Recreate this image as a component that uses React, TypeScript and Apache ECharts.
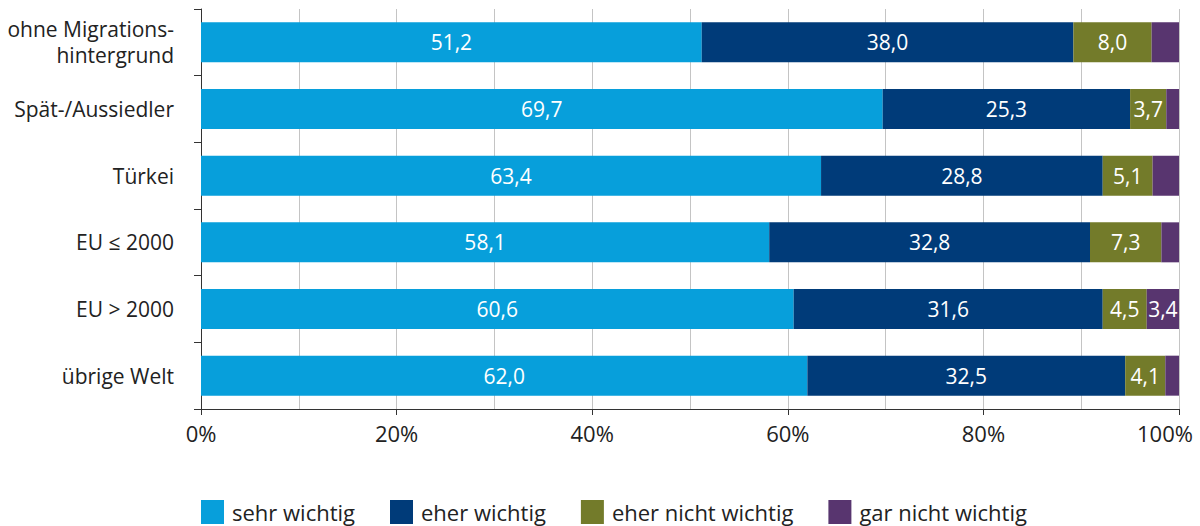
import React, { useEffect, useRef } from "react";
import * as echarts from "echarts";

const categories = ["ohne Migrations-\nhintergrund", "Spät-/Aussiedler", "Türkei", "EU ≤ 2000", "EU > 2000", "übrige Welt"];
const seriesNames = ["sehr wichtig", "eher wichtig", "eher nicht wichtig", "gar nicht wichtig"];
const sehrWichtig = [51.2, 69.7, 63.4, 58.1, 60.6, 62.0];
const eherWichtig = [38.0, 25.3, 28.8, 32.8, 31.6, 32.5];
const eherNichtWichtig = [8.0, 3.7, 5.1, 7.3, 4.5, 4.1];
const garNichtWichtig = [2.8, 1.3, 2.7, 1.8, 3.4, 1.4];
const shownGarNicht = [false, false, false, false, true, false];
const colors = ["#079fdb", "#003b79", "#737b2a", "#58356f"];

const FONT = "'Open Sans', sans-serif";
const fmt = (v: number) => v.toFixed(1).replace(".", ",");

export default function App() {
  const ref = useRef<HTMLDivElement>(null);
  useEffect(() => {
    if (!ref.current) return;
    const chart = echarts.init(ref.current, null, { renderer: "svg" });
    const allData = [sehrWichtig, eherWichtig, eherNichtWichtig, garNichtWichtig];
    const series = allData.map((arr, si) => ({
      name: seriesNames[si],
      type: "bar",
      stack: "total",
      barWidth: "60%",
      itemStyle: { color: colors[si] },
      label: {
        show: true,
        position: "inside",
        color: "#ffffff",
        fontSize: 21,
        fontFamily: FONT,
        formatter: (p: any) => fmt(p.value),
      },
      data: arr.map((v, i) =>
        si === 3 && !shownGarNicht[i] ? { value: v, label: { show: false } } : { value: v }
      ),
    }));
    chart.setOption({
      animation: false,
      textStyle: { fontFamily: FONT },
      grid: { left: 201, right: 21, top: 9, bottom: 117, containLabel: false, outerBoundsMode: "none" },
      legend: {
        left: 201,
        top: 500,
        padding: 0,
        itemWidth: 23,
        itemHeight: 24,
        itemGap: 35,
        icon: "rect",
        textStyle: { fontSize: 22, color: "#222", fontFamily: FONT, padding: [0, 0, 0, 3] },
        data: seriesNames,
      },
      xAxis: {
        type: "value",
        min: 0,
        max: 100,
        interval: 20,
        axisLine: { show: true, lineStyle: { color: "#333", width: 1 } },
        axisTick: { show: true, length: 6, lineStyle: { color: "#333" } },
        axisLabel: {
          fontSize: 22,
          color: "#222",
          margin: 13,
          fontFamily: FONT,
          formatter: (v: number) => (v === 100 ? "{m|" + v + "%}" : v + "%"),
          rich: { m: { fontSize: 22, color: "#222", fontFamily: FONT, padding: [0, 28, 0, 0] } },
        },
        splitLine: { show: true, lineStyle: { color: "#c4c4c4", width: 1 } },
        minorTick: { show: false, splitNumber: 2 },
        minorSplitLine: { show: true, lineStyle: { color: "#c4c4c4", width: 1 } },
      },
      yAxis: {
        type: "category",
        inverse: true,
        data: categories,
        axisLine: { show: true, lineStyle: { color: "#333", width: 1 } },
        axisTick: { show: true, length: 7, lineStyle: { color: "#333" } },
        axisLabel: { fontSize: 21, color: "#222", margin: 27, align: "right", lineHeight: 26, fontFamily: FONT },
        splitLine: { show: false },
      },
      series,
    });
    return () => chart.dispose();
  }, []);
  return <div ref={ref} style={{ width: 1200, height: 526, position: "absolute", left: 0, top: 0 }} />;
}
